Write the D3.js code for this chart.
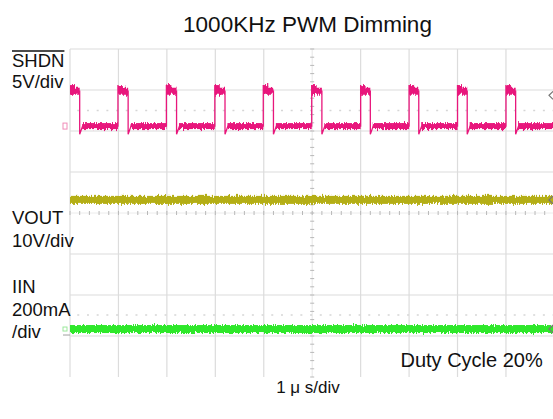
<!DOCTYPE html>
<html><head><meta charset="utf-8">
<script src="https://cdn.jsdelivr.net/npm/d3@7"></script>
<style>
body{margin:0;background:#fff;}
svg{display:block;}
text{font-family:"Liberation Sans", Arial, sans-serif; fill:#111;}
</style>
</head><body>
<svg id="chart" width="553" height="419"></svg>
<script>
// ---------- data ----------
const title = "1000KHz PWM Dimming";
const timeLabel = "1 \u03bc s/div";
const noteLabel = "Duty Cycle 20%";
const xDivTicks = [0,1,2,3,4,5,6,7,8,9,10];          // µs
const yDivTicks = [-4,-3,-2,-1,0,1,2,3,4];            // divisions
const shdnLabel = ["SHDN", "5V/div"];
const voutLabel = ["VOUT", "10V/div"];
const iinLabel  = ["IIN", "200mA", "/div"];
// SHDN pulse train (µs)
const shdnRise = [0.0, 0.99, 1.99, 2.99, 3.99, 4.99, 6.0, 7.0, 8.0, 9.0];
const shdnFall = [0.2, 1.2, 2.2, 3.2, 4.2, 5.2, 6.2, 7.2, 8.2, 9.2];
// trace levels in screen divisions (0 = centre)
const shdnHigh = 2.97, shdnLow = 2.12, shdnPeak = 3.12, shdnDip = 1.92;
const voutLevel = 0.32;
const iinLevel = -2.83;

// ---------- layout ----------
const svg = d3.select("#chart");
const x = d3.scaleLinear().domain([0,10]).range([70, 554.4]);
const y = d3.scaleLinear().domain([-4,4]).range([377, 49]);
const gridCol = "#dcdcdc";

// noise-texture filter (visual styling of scope traces)
const defs = svg.append("defs");
const flt = defs.append("filter").attr("id", "jag").attr("filterUnits", "userSpaceOnUse")
  .attr("x", 0).attr("y", 0).attr("width", 553).attr("height", 419);
flt.append("feTurbulence").attr("type", "fractalNoise").attr("baseFrequency", "0.9 0.08")
  .attr("numOctaves", 2).attr("seed", 3).attr("result", "n");
flt.append("feColorMatrix").attr("in", "n").attr("type", "matrix")
  .attr("values", "0 0 0 0 0.5  0 1 0 0 0  0 0 0 0 0  0 0 0 0 1").attr("result", "m");
flt.append("feDisplacementMap").attr("in", "SourceGraphic").attr("in2", "m")
  .attr("scale", 6).attr("xChannelSelector", "R").attr("yChannelSelector", "G");

// grid
const g = svg.append("g");
g.selectAll("line.v").data(xDivTicks.filter(d=>d!==5)).join("line")
  .attr("x1", d=>x(d)).attr("x2", d=>x(d)).attr("y1", y(4)).attr("y2", y(-4))
  .attr("stroke", gridCol).attr("stroke-width", 1.2);
g.selectAll("line.h").data(yDivTicks.filter(d=>d!==0 && d!==-4)).join("line")
  .attr("x1", x(0)).attr("x2", x(10)).attr("y1", d=>y(d)).attr("y2", d=>y(d))
  .attr("stroke", gridCol).attr("stroke-width", 1.2);
// centre lines with minor ticks
g.append("line").attr("x1", x(5)).attr("x2", x(5)).attr("y1", y(4)).attr("y2", y(-4))
  .attr("stroke", "#e6e6e6").attr("stroke-width", 1);
g.append("line").attr("x1", x(0)).attr("x2", x(10)).attr("y1", y(0)).attr("y2", y(0))
  .attr("stroke", "#ececec").attr("stroke-width", 1);
const minorX = d3.range(0, 50).map(i => i/5);
const minorY = d3.range(0, 41).map(i => -4 + i/5);
g.selectAll("line.mx").data(minorX).join("line")
  .attr("x1", d=>x(d)).attr("x2", d=>x(d)).attr("y1", y(0)-2).attr("y2", y(0)+2)
  .attr("stroke", "#b8b8b8").attr("stroke-width", 1);
g.selectAll("line.my").data(minorY).join("line")
  .attr("x1", x(5)-2).attr("x2", x(5)+2).attr("y1", d=>y(d)).attr("y2", d=>y(d))
  .attr("stroke", "#b8b8b8").attr("stroke-width", 1);
// faint dotted reference lines
[2.5, -2.49].forEach(lv => {
  g.append("line").attr("x1", x(0.15)).attr("x2", x(10)).attr("y1", y(lv)).attr("y2", y(lv))
    .attr("stroke", "#d6d6d6").attr("stroke-width", 1.5).attr("stroke-dasharray", "2,7.7");
});

// ---------- traces ----------
const pink = "#e8177c", olive = "#b4ae12", green = "#2ee82a";
const tr = svg.append("g").attr("filter", "url(#jag)");
// SHDN thin outline
const pts = [];
pts.push([0, shdnHigh]);
shdnRise.forEach((r,i) => {
  if (i>0) { pts.push([r, shdnLow]); pts.push([r, shdnPeak]); pts.push([r+0.02, shdnHigh]); }
  const f = shdnFall[i];
  pts.push([f, shdnHigh]); pts.push([f, shdnDip]); pts.push([f+0.06, shdnLow]);
});
pts.push([10, shdnLow]);
const line = d3.line().x(d=>x(d[0])).y(d=>y(d[1]));
svg.append("path").attr("d", line(pts)).attr("fill","none")
  .attr("stroke", pink).attr("stroke-width", 1.3);
// thick noisy plateaus
const highSegs = shdnRise.map((r,i)=>[r, shdnFall[i]]);
const lowSegs = shdnFall.map((f,i)=>[f+0.05, i+1<shdnRise.length ? shdnRise[i+1] : 10]);
tr.selectAll("rect.hi").data(highSegs).join("rect")
  .attr("x", d=>x(d[0])).attr("width", d=>x(d[1])-x(d[0]))
  .attr("y", y(shdnHigh)-3.5).attr("height", 7).attr("fill", pink);
tr.selectAll("rect.hi2").data(highSegs).join("rect")
  .attr("x", d=>x(d[0])).attr("width", d=>Math.min(x(d[1])-x(d[0]), 5))
  .attr("y", y(shdnPeak)).attr("height", 6).attr("fill", pink);
tr.selectAll("rect.lo").data(lowSegs).join("rect")
  .attr("x", d=>x(d[0])).attr("width", d=>x(d[1])-x(d[0]))
  .attr("y", y(shdnLow)-3).attr("height", 6).attr("fill", pink);

// VOUT
tr.append("rect").attr("x", x(0)).attr("width", x(10)-x(0))
  .attr("y", y(voutLevel)-4).attr("height", 8).attr("fill", olive);
// IIN
tr.append("rect").attr("x", x(0)).attr("width", x(10)-x(0))
  .attr("y", y(iinLevel)-4).attr("height", 8).attr("fill", green);

// channel markers
svg.append("rect").attr("x", 63).attr("y", y(shdnLow)-3).attr("width", 4).attr("height", 6)
  .attr("fill", "none").attr("stroke", "#f08cb8").attr("stroke-width", 1);
svg.append("rect").attr("x", 63).attr("y", y(iinLevel)-2).attr("width", 4).attr("height", 4)
  .attr("fill", "none").attr("stroke", "#9be89b").attr("stroke-width", 1);
svg.append("line").attr("x1", 63).attr("x2", 70).attr("y1", y(iinLevel)+6).attr("y2", y(iinLevel)+6)
  .attr("stroke", "#a0a0a0").attr("stroke-width", 1);
[shdnHigh-0.1, voutLevel, iinLevel].forEach(lv => {
  svg.append("path").attr("d", `M${553},${y(lv)-4} L${549},${y(lv)} L${553},${y(lv)+4}`)
    .attr("fill", "none").attr("stroke", "#777").attr("stroke-width", 1.2);
});

// ---------- text ----------
svg.append("text").attr("x", 307.5).attr("y", 31.5).attr("text-anchor", "middle")
  .style("font-size", "22.5px").text(title);
function label(lines, y0, dy) {
  lines.forEach((t,i) => svg.append("text").attr("x", 12).attr("y", y0 + i*dy)
    .style("font-size", "18.5px").text(t));
}
label(shdnLabel, 66.5, 21.8);
label(voutLabel, 224.3, 23);
label(iinLabel, 293.3, 22.5);
const sh = svg.selectAll("text").filter(function(){return d3.select(this).text()==="SHDN";}).node();
const bb = sh.getBBox();
svg.append("line").attr("x1", bb.x).attr("x2", bb.x+bb.width).attr("y1", 51).attr("y2", 51)
  .attr("stroke", "#111").attr("stroke-width", 1.3);
svg.append("text").attr("x", 400.5).attr("y", 367.3).style("font-size", "20px").text(noteLabel);
svg.append("text").attr("x", 308).attr("y", 393.3).attr("text-anchor", "middle")
  .style("font-size", "17px").text(timeLabel);
</script>
</body></html>
